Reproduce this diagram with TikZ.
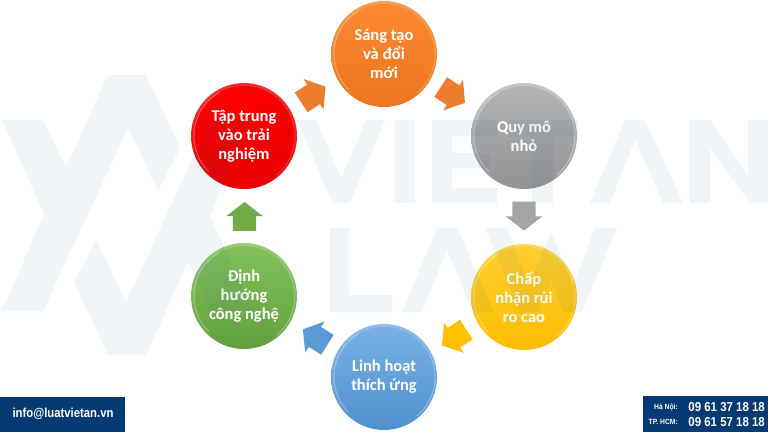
\documentclass[tikz,border=0pt]{standalone}
\usepackage{fontspec}
\setmainfont{Carlito}
\newfontfamily\footfont{Liberation Sans}
\usetikzlibrary{calc,shapes.arrows}
\definecolor{wm}{HTML}{1A5590}
\definecolor{foot}{HTML}{033A73}
\definecolor{orgA}{HTML}{F5A050}\definecolor{orgB}{HTML}{FF8A33}\definecolor{orgC}{HTML}{EC7420}
\definecolor{gryA}{HTML}{C8C8C8}\definecolor{gryB}{HTML}{B4B4B4}\definecolor{gryC}{HTML}{939393}
\definecolor{yelA}{HTML}{FFD850}\definecolor{yelB}{HTML}{FFCF30}\definecolor{yelC}{HTML}{FBBD00}
\definecolor{bluA}{HTML}{8EBDE8}\definecolor{bluB}{HTML}{79B2E6}\definecolor{bluC}{HTML}{4F90CE}
\definecolor{grnA}{HTML}{98CC78}\definecolor{grnB}{HTML}{85C25E}\definecolor{grnC}{HTML}{62A03C}
\definecolor{redA}{HTML}{F03030}\definecolor{redB}{HTML}{FF0000}\definecolor{redC}{HTML}{E80000}
\definecolor{arO}{HTML}{ED7D31}\definecolor{arG}{HTML}{A5A5A5}\definecolor{arY}{HTML}{FFC000}
\definecolor{arB}{HTML}{5B9BD5}\definecolor{arN}{HTML}{70AD47}
\tikzset{
  bubble/.style n args={3}{circle,minimum size=106pt,inner sep=0pt,align=center,text=white,
    font=\fontsize{16.5}{19}\selectfont\bfseries,
    top color=#1,bottom color=#3,
    path picture={
      \shade[top color=#2,bottom color=#3] (path picture bounding box.center) circle (50pt);
      \draw[white,opacity=.3,line width=1pt] ($(path picture bounding box.center)+(120:50pt)$) arc (120:225:50pt);
      \draw[#1,opacity=.9,line width=1pt] ($(path picture bounding box.center)+(-50:51pt)$) arc (-50:40:51pt);
    }},
  flow/.style={single arrow,draw=none,fill=#1,minimum height=29pt,minimum width=36pt,
    single arrow head extend=6.5pt,single arrow tip angle=104,inner xsep=0pt,inner ysep=11.5pt,outer sep=0pt},
  markwm/.style={fill=wm,opacity=.06},
  footbox/.style={fill=foot,draw=none,inner sep=0pt},
  foottext/.style={text=white,font=\footfont\bfseries,inner sep=0pt},
}
\begin{document}
\begin{tikzpicture}[x=1pt,y=-1pt]
\useasboundingbox (0,0) rectangle (768,432);
\fill[white] (0,0) rectangle (768,432);
% bubbles
\node[bubble={orgA}{orgB}{orgC}] (c1) at (384,54) {Sáng tạo\\và đổi\\mới};
\node[bubble={gryA}{gryB}{gryC}] (c2) at (524,136) {Quy mô\\nhỏ};
\node[bubble={yelA}{yelB}{yelC}] (c3) at (524,297) {Chấp\\nhận rủi\\ro cao};
\node[bubble={bluA}{bluB}{bluC}] (c4) at (384,377) {Linh hoạt\\thích ứng};
\node[bubble={grnA}{grnB}{grnC}] (c5) at (244,296) {Định\\hướng\\công nghệ};
\node[bubble={redA}{redB}{redC}] (c6) at (244,136) {Tập trung\\vào trải\\nghiệm};
% block arrows between the bubbles
\node[flow=arO,rotate=-33] (a1) at ($(c1)!.5!(c2)+(-5,-2.5)$) {};
\node[flow=arG,rotate=-90] (a2) at ($(c2)!.5!(c3)+(0,-5)$) {};
\node[flow=arY,rotate=-147] (a3) at ($(c3)!.5!(c4)+(4,-2)$) {};
\node[flow=arB,rotate=148] (a4) at ($(c4)!.5!(c5)+(5,3)$) {};
\node[flow=arN,rotate=90] (a5) at ($(c5)!.5!(c6)+(0.5,5)$) {};
\node[flow=arO,rotate=33] (a6) at ($(c6)!.5!(c1)+(-4.5,2)$) {};
% watermark
\fill[markwm] (2,120)--(43,120)--(66,168)--(108,75)--(146,75)--(180,148)--(158,191)--(128,128)--(43,311)--(2,311)--(44,214)--cycle;
\fill[markwm] (252,310)--(211,310)--(188,262)--(146,355)--(108,355)--(74,282)--(96,239)--(126,302)--(211,119)--(252,119)--(210,216)--cycle;
\fill[markwm] (297,120)--(316,120)--(341,178)--(366,120)--(385,120)--(350,203)--(332,203)--cycle;
\fill[markwm] (395,120) rectangle (415,203);
\fill[markwm] (432,120)--(497,120)--(497,136)--(452,136)--(452,153)--(490,153)--(490,168)--(452,168)--(452,188)--(497,188)--(497,203)--(432,203)--cycle;
\fill[markwm] (508,120)--(578,120)--(578,137)--(553,137)--(553,203)--(532,203)--(532,137)--(508,137)--cycle;
\fill[markwm] (590,203)--(625,120)--(645,120)--(683,203)--(663,203)--(635,140)--(610,203)--cycle;
\fill[markwm] (690,203)--(690,120)--(710,120)--(748,175)--(748,120)--(768,120)--(768,203)--(750,203)--(710,148)--(710,203)--cycle;
\fill[markwm] (330,228)--(349,228)--(349,295)--(392,295)--(392,312)--(330,312)--cycle;
\fill[markwm] (402,312)--(437,228)--(457,228)--(494,312)--(473,312)--(447,250)--(422,312)--cycle;
\fill[markwm] (485,228)--(507,228)--(529,285)--(551,232)--(573,285)--(595,228)--(617,228)--(582,312)--(563,312)--(551,280)--(539,312)--(520,312)--cycle;
% footer
\node[footbox,minimum width=124.5pt,minimum height=35pt,anchor=south west] (mail) at (0,432) {};
\node[foottext,font=\footfont\bfseries\fontsize{13}{14}\selectfont] (mailtext) at (63,414) {\scalebox{.87}[1]{info@luatvietan.vn}};
\node[footbox,minimum width=125pt,minimum height=36pt,anchor=south east] (phone) at (768,432) {};
\node[foottext,font=\footfont\bfseries\fontsize{7.5}{8}\selectfont,anchor=east] (hn) at (678,407.5) {\scalebox{.9}[1]{Hà Nội:}};
\node[foottext,font=\footfont\bfseries\fontsize{13}{14}\selectfont,anchor=east] (hnnum) at (765,407.5) {\scalebox{.88}[1]{09 61 37 18 18}};
\node[foottext,font=\footfont\bfseries\fontsize{7.5}{8}\selectfont,anchor=east] (hcm) at (678,422) {\scalebox{.9}[1]{TP. HCM:}};
\node[foottext,font=\footfont\bfseries\fontsize{13}{14}\selectfont,anchor=east] (hcmnum) at (765,422) {\scalebox{.88}[1]{09 61 57 18 18}};
\end{tikzpicture}
\end{document}
